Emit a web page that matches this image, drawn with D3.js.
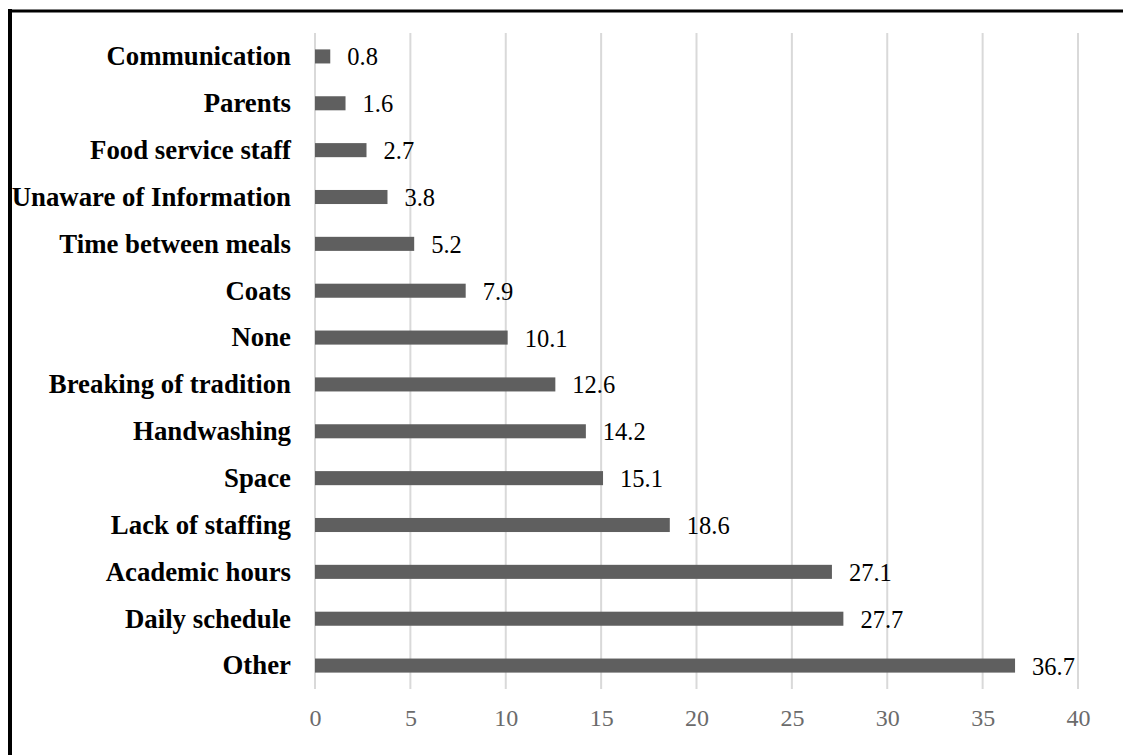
<!DOCTYPE html>
<html><head><meta charset="utf-8">
<script src="https://cdn.jsdelivr.net/npm/d3@7/dist/d3.min.js"></script>
<style>body{margin:0;background:#fff}svg{display:block}</style>
</head><body><svg id="c" width="1123" height="755"></svg>
<script>
const categories = ["Communication","Parents","Food service staff","Unaware of Information","Time between meals","Coats","None","Breaking of tradition","Handwashing","Space","Lack of staffing","Academic hours","Daily schedule","Other"];
const values = [0.8,1.6,2.7,3.8,5.2,7.9,10.1,12.6,14.2,15.1,18.6,27.1,27.7,36.7];
const xTicks = [0,5,10,15,20,25,30,35,40];

const svg = d3.select("#c");
// frame (left and top border)
svg.append("line").attr("x1",10).attr("x2",10).attr("y1",9).attr("y2",755).attr("stroke","#000").attr("stroke-width",4);
svg.append("line").attr("x1",8).attr("x2",1123).attr("y1",11).attr("y2",11).attr("stroke","#000").attr("stroke-width",3);

const x = d3.scaleLinear().domain([0,40]).range([315,1078]);
const y = d3.scaleBand().domain(categories).range([33,689]).paddingInner(0.7).paddingOuter(0.35);

// gridlines
svg.append("g").selectAll("line").data(xTicks).join("line")
  .attr("x1",d=>x(d)).attr("x2",d=>x(d)).attr("y1",33).attr("y2",689)
  .attr("stroke","#d9d9d9").attr("stroke-width",2);

// x tick labels
const xa = svg.append("g").attr("transform","translate(0,726)")
  .call(d3.axisBottom(x).tickValues(xTicks).tickSize(0).tickPadding(0));
xa.select(".domain").remove();
xa.selectAll("text").attr("font-family","'Liberation Serif', serif").attr("font-size",24).attr("fill","#6b6b6b").attr("dy","0");

// bars
svg.append("g").selectAll("rect").data(values).join("rect")
  .attr("x",x(0)).attr("y",(d,i)=>y(categories[i]))
  .attr("width",d=>x(d)-x(0)).attr("height",y.bandwidth())
  .attr("fill","#5f5f5f");

// category labels
const ya = svg.append("g").attr("transform","translate(291,0)")
  .call(d3.axisLeft(y).tickSize(0).tickPadding(0));
ya.select(".domain").remove();
ya.selectAll("text").attr("font-family","'Liberation Serif', serif").attr("font-weight","bold").attr("font-size",26.8).attr("fill","#000").attr("dy","0.33em");

// value labels
svg.append("g").selectAll("text").data(values).join("text")
  .attr("x",d=>x(d)+17).attr("y",(d,i)=>y(categories[i])+y.bandwidth()/2)
  .attr("dy","0.37em")
  .attr("font-family","'Liberation Serif', serif").attr("font-size",24.5).attr("fill","#000")
  .text(d=>d.toFixed(1));
</script></body></html>
